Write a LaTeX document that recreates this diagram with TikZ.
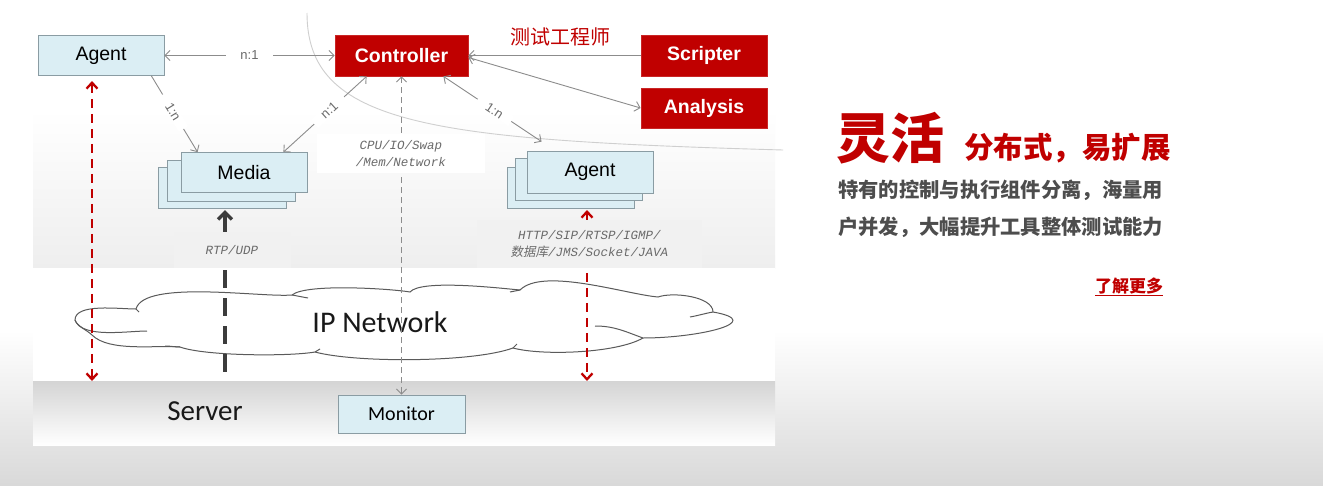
\documentclass[tikz,border=0pt]{standalone}
\usepackage{fontspec}
\setmainfont{Liberation Sans}
\newfontfamily\calfont{Carlito}
\newfontfamily\monofont{Liberation Mono}
\newfontfamily\cjk{Noto Sans CJK SC}
\newfontfamily\cjkit{Noto Sans CJK SC}[FakeSlant=0.2]
\usetikzlibrary{arrows.meta,calc}
\definecolor{dred}{HTML}{C00000}
\definecolor{lblue}{HTML}{DBEEF4}
\definecolor{bbord}{HTML}{8A9CA3}
\definecolor{garr}{HTML}{8C8C8C}
\definecolor{lbl}{HTML}{6A6A6A}
\definecolor{txtgray}{HTML}{4D4D4D}
\definecolor{pan}{HTML}{EEEEEE}
\definecolor{bandtop}{HTML}{D4D4D4}
\definecolor{bgbot}{HTML}{D9D9D9}
\definecolor{lablbox}{HTML}{F1F1F1}
\definecolor{blk}{HTML}{3C3C3C}
\definecolor{cloudline}{HTML}{5A5A5A}
\definecolor{curvec}{HTML}{CFCFCF}
\tikzset{
  lbox/.style={draw=bbord, line width=0.8pt, fill=lblue, minimum width=126pt, minimum height=40pt, inner sep=0pt, font=\fontsize{19.5}{19.5}\selectfont},
  rbox/.style={draw=dred!85!white, line width=0.8pt, fill=dred, text=white, minimum width=126pt, minimum height=41pt, inner sep=0pt, font=\bfseries\fontsize{19.5}{19.5}\selectfont},
  garrow/.style={draw=garr, line width=0.9pt, >={Straight Barb[length=5pt,width=10pt]}},
  lab/.style={fill=white, inner xsep=11pt, inner ysep=1pt, text=lbl, font=\fontsize{13}{13}\selectfont},
  reddash/.style={draw=dred, line width=2.3pt, dash pattern=on 9pt off 6pt, >={Straight Barb[length=6pt,width=11pt]}},
  blkdash/.style={draw=blk, line width=3.4pt, dash pattern=on 18pt off 10pt, >={Straight Barb[length=7pt,width=14pt]}},
  graydash/.style={draw=garr, line width=0.9pt, dash pattern=on 6pt off 4pt, >={Straight Barb[length=5pt,width=10pt]}},
  protbox/.style={fill=lablbox, inner sep=0pt, text=lbl, align=center, font=\monofont\itshape\fontsize{12.5}{17}\selectfont},
  cloudline/.style={draw=cloudline, line width=1pt}
}
\begin{document}
\begin{tikzpicture}[x=1pt,y=-1pt]
\useasboundingbox (0,0) rectangle (1323,485);
% backgrounds
\fill[white] (0,0) rectangle (1323,485);
\shade[top color=white, bottom color=bgbot] (0,330) rectangle (1323,485);
\shade[top color=white, bottom color=pan] (33,110) rectangle (775,268);
\fill[white] (33,268) rectangle (775,381);
\shade[top color=bandtop, bottom color=white] (33,381) rectangle (775,445);
% separating curve
\draw[curvec, line width=0.9pt] (307,13) .. controls (307,125) and (430,140) .. (783,150);
% cloud
\filldraw[cloudline, fill=white]
  (75,320) to[out=90,in=180,looseness=0.7] (136,309)
  to[out=75,in=185,looseness=0.5] (292,295)
  to[out=40,in=170,looseness=0.4] (410,292)
  to[out=50,in=175,looseness=0.4] (520,290)
  to[out=45,in=175,looseness=0.6] (658,297)
  to[out=20,in=90,looseness=0.7] (713,312)
  to[out=-10,in=0,looseness=1.9] (643,338)
  to[out=-150,in=-15,looseness=0.6] (513,348)
  to[out=-160,in=-15,looseness=0.55] (315,352)
  to[out=-170,in=-20,looseness=0.5] (180,347)
  to[out=175,in=-45,looseness=0.7] (92,335)
  to[out=135,in=-70,looseness=0.8] (75,320) -- cycle;
\draw[cloudline] (75,320) to[out=-70,in=180,looseness=0.7] (147,331);
\draw[cloudline] (136,309) to[out=-60,in=120] (139,312);
\draw[cloudline] (292,295) to[out=-10,in=170] (308,298);
\draw[cloudline] (520,290) to[out=-170,in=10] (510,292);
\draw[cloudline] (713,312) to[out=190,in=10] (690,317);
\draw[cloudline] (643,338) to[out=160,in=0] (595,326);
\draw[cloudline] (513,348) to[out=30,in=-120] (517,344);
\draw[cloudline] (315,352) to[out=20,in=-150] (320,349);
\draw[cloudline] (180,347) to[out=180,in=0] (165,346);
\node[font=\calfont\fontsize{30}{30}\selectfont, text=black!90] (ipnet) at (380,322) {IP Network};
\node[font=\calfont\fontsize{29}{29}\selectfont, text=black!90] (server) at (205,411) {Server};
% nodes
\node[lbox] (agent) at (101,55.5) {Agent};
\node[rbox, minimum width=133pt] (ctrl) at (401.5,55.5) {Controller};
\node[rbox] (scr) at (704,55.5) {Scripter};
\node[rbox, minimum height=40pt] (ana) at (704,108) {Analysis};
\node[text=dred, font=\cjk\fontsize{20}{20}\selectfont] (tester) at (560,37) {测试工程师};
\node[lbox, minimum width=128pt, minimum height=41pt] (m3) at (222,187.5) {};
\node[lbox, minimum width=128pt, minimum height=41pt] (m2) at (231,180.5) {};
\node[lbox] (media) at (244,172.5) {Media};
\node[lbox, minimum width=127pt, minimum height=41pt] (a3) at (571,187.5) {};
\node[lbox, minimum width=127pt, minimum height=42pt] (a2) at (579,179) {};
\node[lbox, minimum height=42pt] (ag) at (590,172) {Agent};
\node[lbox, font=\calfont\fontsize{20}{20}\selectfont, minimum width=127pt, minimum height=38pt] (mon) at (401.5,414) {Monitor};
% connectors
\draw[garrow, <->] (agent) -- node[lab, inner xsep=14pt] {n:1} (ctrl);
\draw[garrow, ->] ($(agent.south east)+(-13,0)$) -- node[lab, sloped, pos=0.47] {1:n} ($(media.north west)+(17,0)$);
\draw[garrow, <->] ($(media.north east)+(-24,0)$) -- node[lab, sloped, pos=0.55] {n:1} ($(ctrl.south west)+(32,0)$);
\draw[garrow, <->] ($(ctrl.south east)+(-25,0)$) -- node[lab, sloped, pos=0.52] {1:n} ($(ag.north west)+(15,-9)$);
\draw[garrow, ->] (scr) -- (ctrl);
\draw[garrow, <->] ($(ctrl.east)+(0,2)$) -- (ana.west);
\coordinate (rl1) at (92,81);
\coordinate (rl2) at (92,381);
\draw[reddash, <->] (rl1) -- (rl2);
\coordinate (bk1) at (225,210);
\coordinate (bk2) at (225,381);
\draw[blkdash, <-] (bk1) -- (bk2);
\draw[graydash, <->] (ctrl) -- (mon);
\coordinate (rr1) at (587,210);
\coordinate (rr2) at (587,381);
\draw[reddash, <->] (rr1) -- (rr2);
% protocol labels
\node[protbox, fill=white, minimum width=168pt, minimum height=39pt] (cpu) at (401,153.5) {CPU/IO/Swap\\/Mem/Network};
\node[protbox, minimum width=117pt, minimum height=36pt] (rtp) at (232,250) {RTP/UDP};
\node[protbox, minimum width=225pt, minimum height=48pt] (http) at (589.5,244) {HTTP/SIP/RTSP/IGMP/\\{\cjkit 数据库}/JMS/Socket/JAVA};
% right-hand text
\node[anchor=west, inner sep=0pt, text=dred, font=\cjk\bfseries\fontsize{54}{54}\selectfont] (title) at (836,138) {灵活};
\node[anchor=west, inner sep=0pt, text=dred, font=\cjk\bfseries\fontsize{29.5}{29.5}\selectfont] (sub) at (964,148) {分布式，易扩展};
\node[anchor=west, inner sep=0pt, text=txtgray, font=\cjk\bfseries\fontsize{20.3}{20.3}\selectfont] (l1) at (838,190) {特有的控制与执行组件分离，海量用};
\node[anchor=west, inner sep=0pt, text=txtgray, font=\cjk\bfseries\fontsize{20.3}{20.3}\selectfont] (l2) at (838,227) {户并发，大幅提升工具整体测试能力};
\node[anchor=west, inner sep=0pt, text=dred, font=\cjk\bfseries\fontsize{17}{17}\selectfont] (more) at (1095,287) {\underline{了解更多}};
\end{tikzpicture}
\end{document}
